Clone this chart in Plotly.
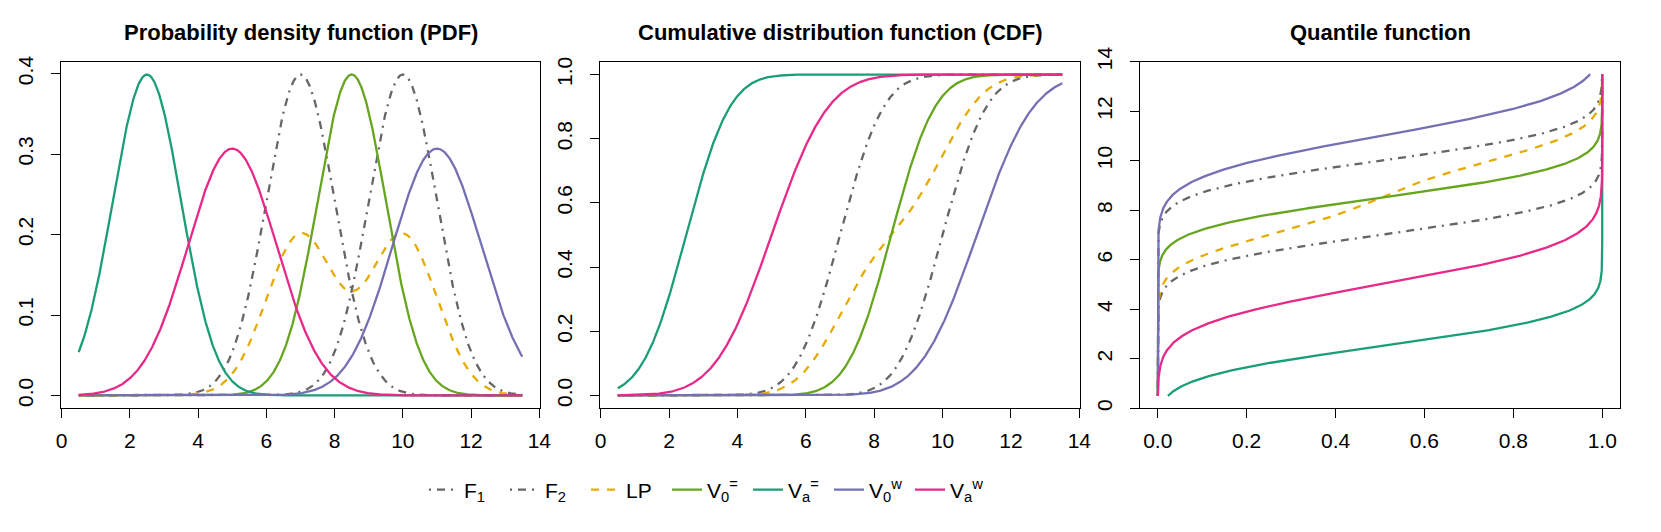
import math
import numpy as np
import plotly.graph_objects as go

# ---- data (distribution parameters) ----
series_names = ["F<sub>1</sub>", "F<sub>2</sub>", "LP",
                "V<sub>0</sub><sup>=</sup>", "V<sub>a</sub><sup>=</sup>",
                "V<sub>0</sub><sup>w</sup>", "V<sub>a</sub><sup>w</sup>"]
# each series is a mixture of normal components: (weights, means, sds)
mix_weights = [[1.0], [1.0], [0.5, 0.5], [1.0], [1.0], [1.0], [1.0]]
mix_means = [[7.0], [10.0], [7.0, 10.0], [8.5], [2.5], [11.0], [5.0]]
mix_sds = [[1.0], [1.0], [1.0, 1.0], [1.0], [1.0], [1.3], [1.3]]
x_min, x_max = 0.5, 13.5

pdf_ticks = [0.0, 0.1, 0.2, 0.3, 0.4]
cdf_ticks = [0.0, 0.2, 0.4, 0.6, 0.8, 1.0]
x_ticks = [0, 2, 4, 6, 8, 10, 12, 14]
panel_titles = ["Probability density function (PDF)",
                "Cumulative distribution function (CDF)",
                "Quantile function"]

# ---- styles ----
colors = ["#666666", "#666666", "#E6AB02", "#66A61E", "#1B9E77", "#7570B3", "#E7298A"]
dashes = ["2px,6px,8px,6px", "2px,6px,8px,6px", "8px,8px", "solid", "solid", "solid", "solid"]
LW = 2.3

xs = np.linspace(x_min, x_max, 1301)


def npdf(x, m, s):
    return np.exp(-0.5 * ((x - m) / s) ** 2) / (s * math.sqrt(2 * math.pi))


def ncdf(x, m, s):
    return np.array([0.5 * (1 + math.erf((v - m) / (s * math.sqrt(2)))) for v in x])


W, H = 1661, 532
def fx(px):
    return px / W
def fy(py):
    return 1 - py / H

boxes = [(61.0, 540.0), (600.0, 1080.0), (1140.0, 1620.0)]
ytop, ybot = 61.7, 408.3

fig = go.Figure()
for i, name in enumerate(series_names):
    pdf = sum(w * npdf(xs, m, s) for w, m, s in zip(mix_weights[i], mix_means[i], mix_sds[i]))
    cdf = sum(w * ncdf(xs, m, s) for w, m, s in zip(mix_weights[i], mix_means[i], mix_sds[i]))
    line = dict(color=colors[i], width=LW, dash=dashes[i])
    fig.add_trace(go.Scatter(x=xs, y=pdf, mode="lines", line=line, name=name,
                             legendgroup=name, showlegend=True, xaxis="x", yaxis="y"))
    fig.add_trace(go.Scatter(x=xs, y=cdf, mode="lines", line=line, name=name,
                             legendgroup=name, showlegend=False, xaxis="x2", yaxis="y2"))
    fig.add_trace(go.Scatter(x=cdf, y=xs, mode="lines", line=line, name=name,
                             legendgroup=name, showlegend=False, xaxis="x3", yaxis="y3"))

FONT = "Liberation Sans, Arial"
tickfont = dict(family=FONT, size=21, color="black")
common = dict(showgrid=False, zeroline=False, showline=True, mirror=True,
              linecolor="black", linewidth=1, ticks="outside", ticklen=9,
              tickcolor="black", tickwidth=1, tickfont=tickfont, automargin=False)

def xa(i, rng, tv, fmt):
    d = dict(common)
    d.update(domain=[fx(boxes[i][0]), fx(boxes[i][1])], range=rng,
             tickvals=tv, tickformat=fmt, anchor="y" if i == 0 else "y%d" % (i + 1),
             ticklabelstandoff=4)
    return d

def ya(i, rng, tv, fmt):
    d = dict(common)
    d.update(domain=[fy(ybot), fy(ytop)], range=rng, tickvals=tv, tickformat=fmt,
             tickangle=-90, anchor="x" if i == 0 else "x%d" % (i + 1),
             ticklabelstandoff=10)
    return d

xr = [-0.02, 14.02]
fig.update_layout(
    template="none",
    width=W, height=H,
    margin=dict(l=0, r=0, t=0, b=0, autoexpand=False),
    paper_bgcolor="white", plot_bgcolor="white",
    font=dict(family=FONT, color="black", size=21),
    xaxis=xa(0, xr, x_ticks, "d"),
    yaxis=ya(0, [-0.01596, 0.41487], pdf_ticks, ".1f"),
    xaxis2=xa(1, xr, x_ticks, "d"),
    yaxis2=ya(1, [-0.04, 1.04], cdf_ticks, ".1f"),
    xaxis3=xa(2, [-0.04, 1.04], cdf_ticks, ".1f"),
    yaxis3=ya(2, [0, 14], x_ticks, "d"),
    showlegend=True,
    legend=dict(orientation="h", x=fx(424), xanchor="left", y=fy(490), yanchor="middle",
                font=dict(family=FONT, size=21, color="black"),
                entrywidth=36, entrywidthmode="pixels", bgcolor="rgba(0,0,0,0)"),
)

for i, t in enumerate(panel_titles):
    fig.add_annotation(text="<b>%s</b>" % t, x=fx((boxes[i][0] + boxes[i][1]) / 2),
                       y=fy(32), xref="paper", yref="paper", showarrow=False,
                       xanchor="center", yanchor="middle",
                       font=dict(family=FONT, size=22, color="black"))

fig.write_html("out.html", config={"displayModeBar": False},
               post_script="document.body.style.margin='0px';")
